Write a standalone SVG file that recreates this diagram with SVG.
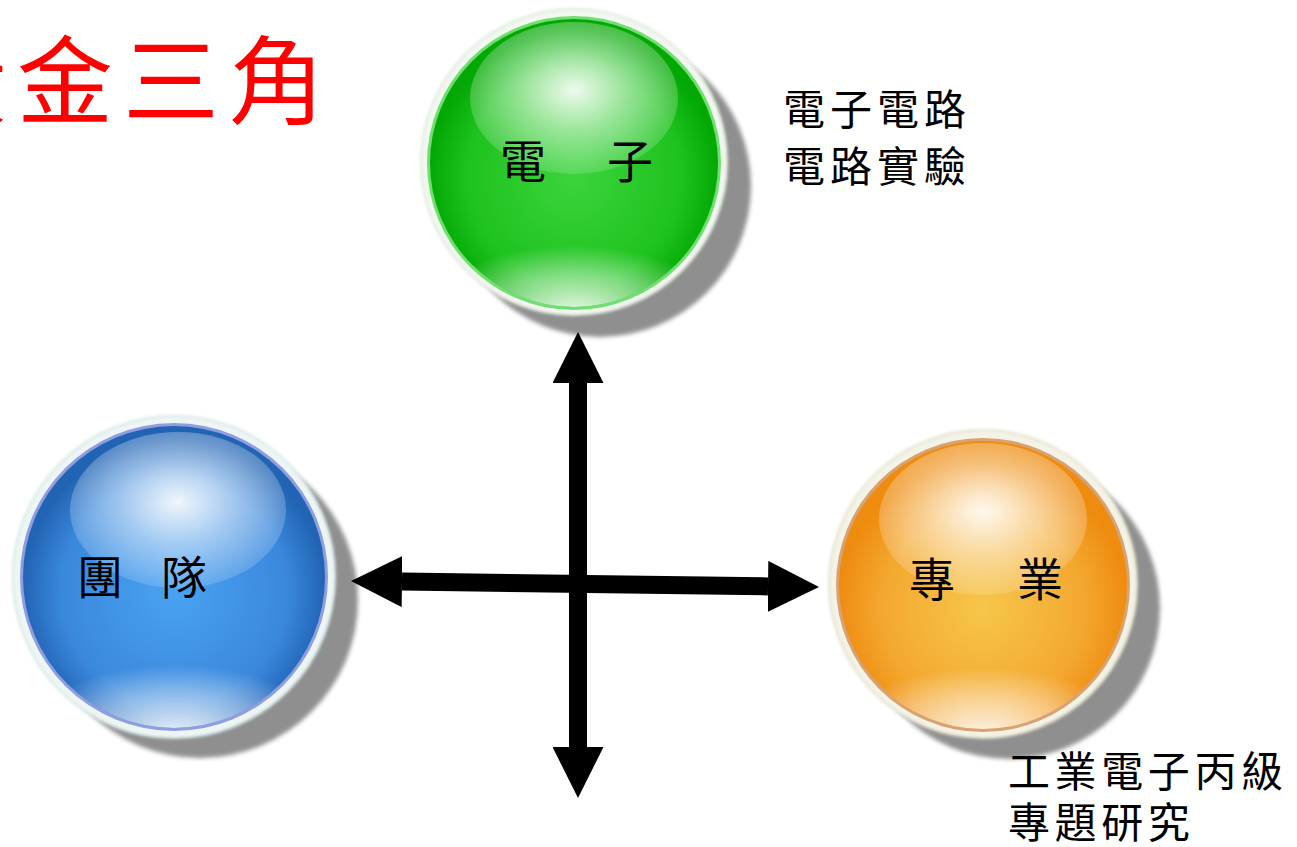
<svg xmlns="http://www.w3.org/2000/svg" width="1297" height="847" viewBox="0 0 1297 847">
<style>
.lbl{font-family:"Liberation Serif","Noto Sans CJK TC",serif;fill:#000}
.node-lbl{font-size:46px}
.note{font-size:42px;letter-spacing:5px}
.title{font-family:"Liberation Serif","Noto Sans CJK TC",serif;font-size:96px;letter-spacing:10px;fill:#ff0000}
.arrow{stroke:#000;stroke-width:18;fill:none;marker-start:url(#head);marker-end:url(#head)}
.shadow{fill:#8a8a8a;opacity:.95;filter:url(#blur)}
.hl{fill:url(#hlGrad)}
.bl{fill:url(#botGrad)}
</style>
<defs>
<filter id="blur" x="-20%" y="-20%" width="140%" height="140%"><feGaussianBlur stdDeviation="2"/></filter>
<filter id="soft" x="-20%" y="-20%" width="140%" height="140%"><feGaussianBlur stdDeviation="1.5"/></filter>
<marker id="head" markerUnits="userSpaceOnUse" markerWidth="51" markerHeight="51" viewBox="0 0 51 51" refX="0" refY="25.5" orient="auto-start-reverse"><path d="M0,0 L51,25.5 L0,51 z" fill="#000"/></marker>
<radialGradient id="hlGrad" cx="50%" cy="45%" r="55%">
<stop offset="0" stop-color="#fff" stop-opacity=".92"/>
<stop offset=".5" stop-color="#fff" stop-opacity=".5"/>
<stop offset="1" stop-color="#fff" stop-opacity=".15"/>
</radialGradient>
<radialGradient id="botGrad" cx="50%" cy="95%" r="60%">
<stop offset="0" stop-color="#fff" stop-opacity=".9"/>
<stop offset=".6" stop-color="#fff" stop-opacity=".4"/>
<stop offset="1" stop-color="#fff" stop-opacity="0"/>
</radialGradient>
<radialGradient id="gGrad" cx="50%" cy="55%" r="50%">
<stop offset="0" stop-color="#3cd43c"/>
<stop offset=".75" stop-color="#1ec21e"/>
<stop offset="1" stop-color="#04a804"/>
</radialGradient>
<radialGradient id="bGrad" cx="50%" cy="55%" r="50%">
<stop offset="0" stop-color="#4aa2f2"/>
<stop offset=".75" stop-color="#3a88dc"/>
<stop offset="1" stop-color="#2264b4"/>
</radialGradient>
<radialGradient id="oGrad" cx="50%" cy="58%" r="50%">
<stop offset="0" stop-color="#f6c64a"/>
<stop offset=".7" stop-color="#f4a830"/>
<stop offset="1" stop-color="#ee8c10"/>
</radialGradient>
<clipPath id="cG"><circle cx="574" cy="163" r="144"/></clipPath>
<clipPath id="cB"><circle cx="174" cy="577" r="151"/></clipPath>
<clipPath id="cO"><circle cx="983" cy="585" r="144"/></clipPath>
</defs>
<rect width="1297" height="847" fill="#fff"/>

<text class="title" x="-89" y="116">黃金三角</text>

<g id="node-electronics">
<circle class="shadow" cx="600" cy="186" r="151"/>
<circle cx="574" cy="162" r="153" fill="#f3f8f1" stroke="#dfe9dc" stroke-width="2" filter="url(#soft)"/>
<circle cx="574" cy="163" r="147" fill="#6fe06f"/>
<circle cx="574" cy="163" r="144" fill="url(#gGrad)"/>
<g clip-path="url(#cG)">
<ellipse class="hl" cx="574" cy="98" rx="104" ry="76"/>
<ellipse class="bl" cx="574" cy="262" rx="120" ry="55"/>
</g>
<text class="lbl node-lbl" x="500 553 607" y="178">電　子</text>
</g>

<g id="node-team">
<circle class="shadow" cx="200" cy="600" r="158"/>
<circle cx="174" cy="577" r="161" fill="#eef6f5" stroke="#d4e6e6" stroke-width="2" filter="url(#soft)"/>
<circle cx="174" cy="577" r="154" fill="#8e9ee0"/>
<circle cx="174" cy="577" r="151" fill="url(#bGrad)"/>
<g clip-path="url(#cB)">
<ellipse class="hl" cx="178" cy="510" rx="108" ry="78"/>
<ellipse class="bl" cx="176" cy="682" rx="126" ry="57"/>
</g>
<text class="lbl node-lbl" x="77 119 161" y="594">團　隊</text>
</g>

<g id="node-profession">
<circle class="shadow" cx="1009" cy="608" r="151"/>
<circle cx="983" cy="584" r="154" fill="#f4f3e6" stroke="#e2e0cc" stroke-width="2" filter="url(#soft)"/>
<circle cx="983" cy="585" r="147" fill="#d9a274"/>
<circle cx="983" cy="585" r="144" fill="url(#oGrad)"/>
<g clip-path="url(#cO)">
<ellipse class="hl" cx="983" cy="519" rx="104" ry="76"/>
<ellipse class="bl" cx="983" cy="684" rx="120" ry="55"/>
</g>
<text class="lbl node-lbl" x="909 963 1017" y="596">專　業</text>
</g>

<g id="connectors">
<line class="arrow" x1="578" y1="383" x2="578" y2="747"/>
<line class="arrow" x1="402" y1="581.6" x2="768" y2="586.4"/>
</g>

<g id="notes">
<text class="lbl note" x="783" y="125">電子電路</text>
<text class="lbl note" x="783" y="182">電路實驗</text>
<text class="lbl note" x="1008" y="787" style="letter-spacing:4.6px">工業電子丙級</text>
<text class="lbl note" x="1008" y="838" style="letter-spacing:4.6px">專題研究</text>
</g>
</svg>
